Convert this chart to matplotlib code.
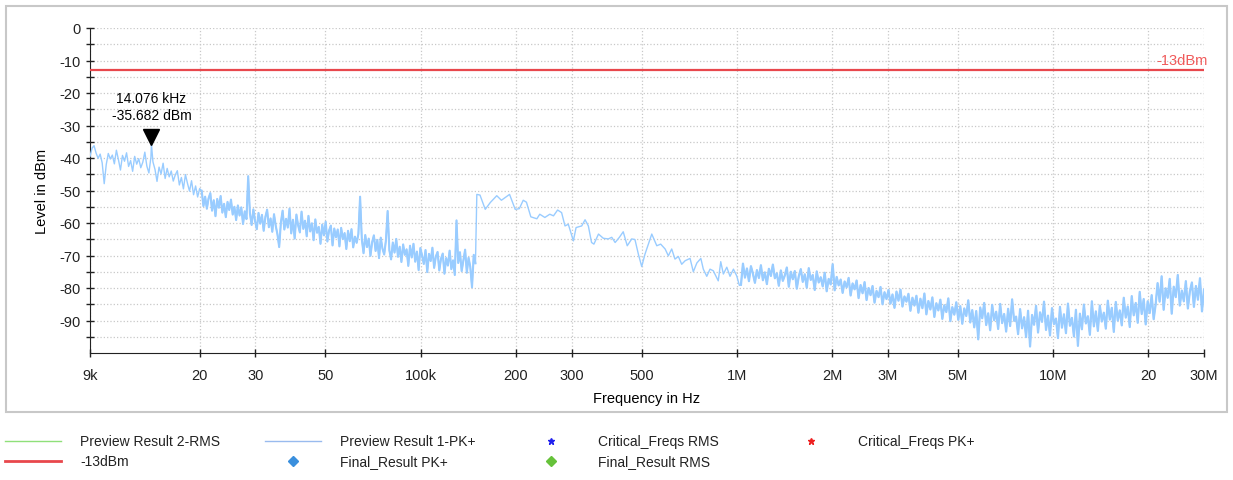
"""
EMI pre-scan plot: Preview Result 1-PK+ against a -13 dBm limit line
"""
import numpy as np
import matplotlib
matplotlib.use('Agg')
import matplotlib.pyplot as plt
from matplotlib.lines import Line2D
from matplotlib.patches import Rectangle
from matplotlib.transforms import ScaledTranslation

plt.rcParams['font.family'] = ['Liberation Sans', 'DejaVu Sans']
plt.rcParams['axes.unicode_minus'] = False

# ── data ──────────────────────────────────────────────────────
# 9 kHz .. 20 kHz (levels in dBm)
LVL_A1 = [-39.5, -37.0, -36.2, -38.5, -40.1, -38.8, -41.5, -47.9, -42.0, -38.6,
          -40.3, -39.1, -41.8, -37.6, -40.5, -43.7, -39.2, -41.0, -38.4, -42.6,
          -40.8, -44.1, -39.5, -41.9, -40.2, -43.0, -41.3, -38.2, -42.5, -44.6,
          -39.8, -41.2, -43.5, -47.2, -42.8, -44.9, -41.6, -46.3, -43.2, -45.8,
          -44.0, -47.1, -45.2, -43.9, -48.3, -46.0, -49.5, -45.1, -47.8, -50.2,
          -47.0, -51.3, -48.6, -52.0, -49.4]
# 20 kHz .. 149 kHz
LVL_A2 = [-50.1, -54.8, -51.9, -55.6, -52.4, -50.8, -56.2, -53.0, -57.9, -52.6,
          -55.3, -51.7, -56.8, -54.1, -58.2, -53.5, -56.0, -52.8, -57.4, -55.0,
          -59.1, -54.6, -57.7, -55.2, -60.3, -56.4, -58.8, -45.6, -57.0, -60.6,
          -55.8, -59.4, -61.9, -56.9, -60.2, -57.5, -62.4, -58.1, -55.9, -61.3,
          -58.6, -62.7, -57.3, -60.9, -63.5, -67.4, -59.8, -56.2, -62.0, -58.7,
          -61.4, -55.6, -63.2, -59.0, -64.8, -57.4, -60.7, -62.9, -56.5, -61.8,
          -59.3, -64.1, -57.8, -62.6, -60.1, -65.3, -58.9, -63.0, -61.2, -66.4,
          -60.5, -63.8, -59.6, -65.7, -62.3, -60.8, -66.9, -61.7, -64.4, -62.0,
          -67.2, -61.5, -64.9, -63.1, -68.0, -62.4, -65.6, -61.9, -67.5, -64.2,
          -66.1, -63.4, -51.9, -65.0, -69.3, -63.7, -67.4, -64.8, -70.1, -65.9,
          -63.8, -68.6, -65.2, -70.8, -64.5, -67.9, -69.7, -65.3, -56.3, -68.4,
          -71.2, -66.0, -69.1, -64.9, -70.4, -67.3, -72.0, -66.6, -69.8, -68.1,
          -73.2, -67.0, -70.6, -66.4, -71.9, -68.8, -74.5, -67.7, -70.0, -72.6,
          -68.3, -75.1, -69.5, -71.7, -67.6, -73.8, -70.3, -68.9, -74.6, -71.0,
          -69.4, -75.6, -70.8, -73.1, -68.5, -74.2, -71.5, -76.0, -59.2, -72.3,
          -69.0, -74.8, -71.6, -68.2, -75.3, -70.7, -73.5, -79.8, -69.8, -72.4]
# 150 kHz .. 1 MHz (smooth part), frequency in kHz
FREQ_B = [150.5, 154, 160, 166, 174, 180, 191, 199, 205, 211, 216, 223, 233, 238,
          247, 256, 263, 271, 279, 286, 293, 304, 310, 323, 331, 339, 347, 353,
          365, 378, 392, 402, 412, 425, 437, 450, 465, 476, 488, 500, 512, 525,
          538, 558, 574, 593, 607, 622, 637, 653, 669, 686, 711, 728, 747, 769,
          783, 803, 822, 842, 873, 889, 906, 929, 951, 975, 999, 1018]
LVL_B = [-51.2, -51.4, -55.8, -53.7, -51.6, -53.0, -51.2, -55.8, -55.6, -53.0,
         -53.6, -58.1, -58.7, -57.3, -58.3, -57.3, -57.8, -56.0, -56.8, -60.9,
         -60.4, -65.5, -61.4, -60.9, -59.0, -60.9, -66.0, -66.5, -63.4, -64.7,
         -64.9, -64.4, -66.0, -64.4, -62.7, -67.0, -64.9, -65.1, -69.6, -73.4,
         -69.6, -66.5, -63.4, -67.0, -66.5, -68.0, -70.1, -68.0, -71.1, -70.3,
         -72.7, -71.6, -70.9, -75.0, -72.3, -70.9, -74.2, -76.4, -74.2, -74.7,
         -77.8, -71.9, -75.7, -73.6, -76.4, -74.2, -76.3, -79.2]
# 1 MHz .. 21 MHz
LVL_C1 = [-79.0, -72.5, -76.8, -74.0, -77.9, -73.3, -75.6, -78.4, -74.5, -76.9,
          -73.0, -77.6, -75.2, -78.8, -74.1, -76.3, -72.8, -77.0, -75.5, -79.3,
          -74.6, -77.8, -76.1, -73.7, -79.6, -75.0, -77.3, -74.8, -80.2, -76.4,
          -74.2, -78.1, -75.8, -79.9, -73.9, -77.5, -76.0, -80.6, -74.9, -78.3,
          -76.7, -79.5, -75.3, -81.0, -77.2, -78.9, -72.7, -80.7, -76.6, -79.2,
          -77.4, -81.5, -78.0, -79.8, -76.9, -82.3, -78.6, -80.4, -77.7, -83.1,
          -79.1, -81.6, -78.2, -83.7, -80.0, -82.2, -79.4, -84.5, -80.9, -82.8,
          -79.7, -85.0, -81.3, -83.4, -80.6, -84.8, -82.0, -86.1, -81.1, -83.9,
          -80.5, -85.7, -82.6, -84.2, -81.8, -87.0, -83.0, -85.4, -82.4, -87.6,
          -83.3, -86.2, -81.7, -88.1, -84.0, -86.6, -82.9, -88.9, -84.7, -86.9,
          -83.6, -89.5, -85.3, -87.4, -83.2, -90.2, -85.9, -88.2, -84.4, -89.8,
          -85.6, -91.0, -86.3, -88.6, -83.8, -90.6, -86.8, -92.1, -87.1, -95.8,
          -86.0, -89.3, -84.6, -91.4, -87.8, -93.0, -85.2, -89.9, -87.3, -92.6,
          -84.9, -90.8, -88.0, -93.4, -86.4, -91.7, -83.5, -90.1, -88.8, -94.2,
          -86.5, -92.4, -89.0, -95.1, -87.0, -98.0, -88.3, -91.3, -85.5, -93.7,
          -87.5, -90.4, -84.2, -92.9, -88.5, -94.6, -86.2, -91.1, -89.4, -95.4,
          -85.8, -92.2, -88.1, -93.9, -84.8, -91.6, -89.2, -94.9, -86.7, -97.8,
          -87.9, -92.7, -85.1, -90.9, -88.7, -94.4, -84.1, -91.8, -87.2, -93.2,
          -85.4, -90.3, -87.6, -92.5, -83.9, -89.7, -86.1, -93.5, -84.3, -90.0,
          -86.9, -91.5, -83.0, -89.1, -85.7, -92.0, -82.5, -88.4, -84.6, -90.7,
          -81.2, -88.0, -83.4, -91.2, -84.1, -87.7, -82.2, -89.6, -85.0]
# 21 MHz .. 30 MHz
LVL_C2 = [-78.5, -84.2, -76.4, -86.7, -80.1, -83.0, -77.2, -87.9, -79.6, -82.8,
          -76.0, -85.4, -80.8, -84.1, -77.9, -86.3, -81.0, -78.3, -85.8, -79.4,
          -83.6, -77.0, -87.2, -80.5]

# marker and limit
MARK_FREQ = 14.076e3
MARK_LVL = -35.682
LIMIT_DBM = -13

X_TICKS = [9e3, 20e3, 30e3, 50e3, 100e3, 200e3, 300e3, 500e3,
           1e6, 2e6, 3e6, 5e6, 10e6, 20e6, 30e6]
X_LABELS = ['9k', '20', '30', '50', '100k', '200', '300', '500',
            '1M', '2M', '3M', '5M', '10M', '20', '30M']

# ── assemble the trace ───────────────────────────────────────
f_a1 = np.geomspace(9e3, 20e3, len(LVL_A1))
f_a2 = np.geomspace(20.3e3, 149e3, len(LVL_A2))
f_b = np.array(FREQ_B) * 1e3
f_c1 = np.geomspace(1.03e6, 21.1e6, len(LVL_C1))
f_c2 = np.geomspace(21.4e6, 30e6, len(LVL_C2))

freq = np.concatenate([f_a1, [MARK_FREQ], f_a2, f_b, f_c1, f_c2])
level = np.concatenate([LVL_A1, [MARK_LVL], LVL_A2, LVL_B, LVL_C1, LVL_C2])
order = np.argsort(freq)
freq, level = freq[order], level[order]

# ── figure ───────────────────────────────────────────────────
W, H = 1233, 481
fig = plt.figure(figsize=(W / 100, H / 100), dpi=100)
ax = fig.add_axes([90 / W, 1 - 354 / H, 1114 / W, 325 / H])

# outer frame
fig.add_artist(Rectangle((6 / W, 1 - 413 / H), 1221 / W, 406 / H,
                         transform=fig.transFigure, fill=False,
                         edgecolor='#c8c8c8', linewidth=1.5))

TRACE = '#99ccff'
ax.plot(freq, level, color=TRACE, linewidth=1.0, zorder=3)
# the dense noise bands look filled in the original -> thicker stroke there
ax.plot(f_a2, LVL_A2, color=TRACE, linewidth=1.5, zorder=3)
ax.plot(np.concatenate([f_c1, f_c2]), LVL_C1 + LVL_C2, color=TRACE,
        linewidth=1.6, zorder=3)

ax.axhline(LIMIT_DBM, color='#e8474c', linewidth=1.6, zorder=4)
ax.annotate('-13dBm', xy=(30e6, LIMIT_DBM), xytext=(3, 2),
            textcoords='offset points', ha='right', va='bottom',
            color='#f05a5a', fontsize=10.5)

# peak marker
tri = ax.transData + ScaledTranslation(0, 5 / 72, fig.dpi_scale_trans)
ax.plot([MARK_FREQ], [MARK_LVL], marker='v', markersize=11.5,
        color='black', linestyle='none', transform=tri, zorder=5)
ax.annotate(f'{MARK_FREQ / 1e3:.3f} kHz\n{MARK_LVL:.3f} dBm',
            xy=(MARK_FREQ, MARK_LVL), xytext=(0, 16),
            textcoords='offset points', ha='center', va='bottom',
            fontsize=10, linespacing=1.25)

# axes
ax.set_xscale('log')
ax.set_xlim(9e3, 30e6)
ax.set_ylim(-100, 0)
ax.set_xticks(X_TICKS)
ax.set_xticklabels(X_LABELS)
ax.xaxis.set_minor_locator(matplotlib.ticker.NullLocator())
ax.set_yticks(np.arange(0, -91, -10))
ax.set_yticks(np.arange(-5, -100, -10), minor=True)
ax.tick_params(axis='both', which='both', direction='inout', length=6,
               width=1, labelsize=10.5, colors='#222222')
ax.tick_params(axis='x', pad=8)
ax.grid(True, which='both', color='#c8c8c8', linestyle=':', linewidth=0.9)
for s in ['top', 'right']:
    ax.spines[s].set_visible(False)
for s in ['left', 'bottom']:
    ax.spines[s].set_color('#222222')
ax.set_axisbelow(True)

ax.set_xlabel('Frequency in Hz', fontsize=10.5, labelpad=6)
ax.set_ylabel('Level in dBm', fontsize=10.5, labelpad=8)

# ── legend (drawn by hand, fixed-width columns) ──────────────
def legend_entry(x_text, y, label, color, marker=None, lw=1.0, ms=6):
    fy = 1 - y / H
    x_hand = x_text - 75
    if marker is None:
        fig.add_artist(Line2D([x_hand / W, (x_hand + 56) / W], [fy, fy],
                              color=color, linewidth=lw,
                              transform=fig.transFigure))
    else:
        fig.add_artist(Line2D([(x_hand + 28) / W], [fy], marker=marker,
                              markersize=ms, color=color, linestyle='none',
                              transform=fig.transFigure))
    fig.text(x_text / W, fy, label, fontsize=10, va='center', ha='left',
             color='#222222')

legend_entry(80, 442, 'Preview Result 2-RMS', '#8fe07a')
legend_entry(80, 462, '-13dBm', '#e8474c', lw=2)
legend_entry(340, 442, 'Preview Result 1-PK+', '#99bbee')
legend_entry(340, 462, 'Final_Result PK+', '#3a8fdd', marker='D', ms=5)
legend_entry(598, 442, 'Critical_Freqs RMS', '#2020ee', marker='*', ms=5)
legend_entry(598, 462, 'Final_Result RMS', '#66c23a', marker='D', ms=5)
legend_entry(858, 442, 'Critical_Freqs PK+', '#ee2020', marker='*', ms=5)

plt.savefig('out.png', dpi=100)
plt.close()
